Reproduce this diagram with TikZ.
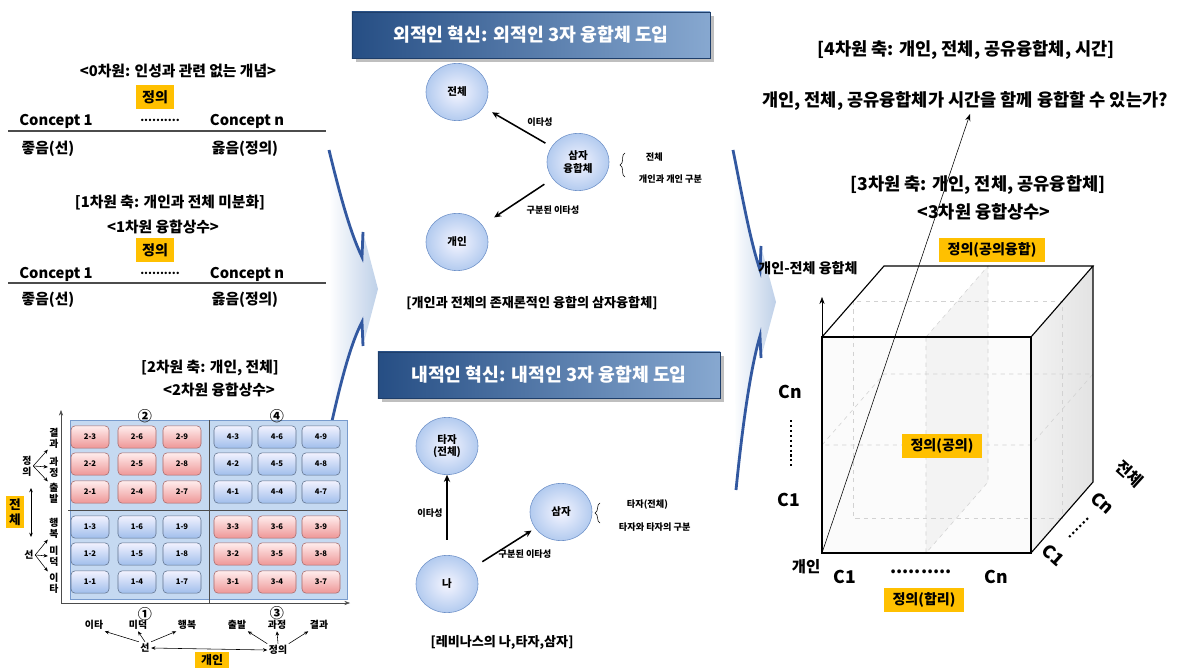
\documentclass[tikz,border=0pt]{standalone}
\usepackage{fontspec}
\setmainfont{Noto Sans CJK KR}
\usetikzlibrary{shapes, arrows.meta, positioning, calc, decorations.pathreplacing, shadows}

\definecolor{justyellow}{RGB}{255, 192, 0}
\definecolor{cellred}{RGB}{238, 150, 150}
\definecolor{cellblue}{RGB}{160, 190, 235}
\definecolor{panelblue}{RGB}{197, 217, 241}
\definecolor{paneledge}{RGB}{120, 155, 205}
\definecolor{bannerdark}{RGB}{38, 78, 132}
\definecolor{bannerlight}{RGB}{135, 168, 208}
\definecolor{chevblue}{RGB}{50, 88, 160}
\definecolor{chevfill}{RGB}{190, 208, 232}
\definecolor{bubbleedge}{RGB}{110, 145, 200}

\tikzset{
  ftitle/.style={font=\bfseries\fontsize{10.5}{12.5}\selectfont},
  fbig/.style={font=\bfseries\fontsize{12.5}{15}\selectfont},
  yellowbox/.style={fill=justyellow, inner xsep=4.5pt, inner ysep=3.5pt, font=\bfseries\fontsize{10}{12}\selectfont},
  gridcell/.style={draw, rounded corners=3pt, minimum width=0.95cm, minimum height=0.56cm, inner sep=0pt, font=\bfseries\fontsize{5.5}{6}\selectfont},
  redcell/.style={gridcell, draw=cellred!70!black, top color=red!7, bottom color=cellred},
  bluecell/.style={gridcell, draw=cellblue!60!black, top color=blue!5, bottom color=cellblue},
  bubble/.style={ellipse, draw=bubbleedge, inner color=blue!4, outer color=cellblue!80, minimum width=1.55cm, minimum height=1.43cm, inner sep=1pt, font=\bfseries\fontsize{7.5}{9}\selectfont, align=center},
  banner/.style={draw=bannerdark!80!black, left color=bannerdark, right color=bannerlight, drop shadow, text=white, font=\bfseries\fontsize{13}{15}\selectfont},
  smalltxt/.style={font=\bfseries\fontsize{6.5}{8}\selectfont},
  captxt/.style={font=\bfseries\fontsize{9.3}{11}\selectfont},
  vlab/.style={font=\bfseries\fontsize{7}{7.6}\selectfont, align=center, inner sep=1pt},
  dimlab/.style={font=\bfseries\fontsize{12.5}{14}\selectfont},
  hiddenline/.style={draw=gray!35, dashed, thin},
  smallarr/.style={-{Stealth[length=3pt, width=2.5pt]}, thin},
  midarr/.style={-{Stealth[length=5pt, width=4.5pt]}, line width=1.1pt},
}

\begin{document}
\begin{tikzpicture}[x=0.025cm, y=-0.025cm]
  \useasboundingbox (0,0) rectangle (1189,668);

  % big curved arrows
  \shade[left color=white, right color=chevfill] (329,150) .. controls (340,195) and (350,232) .. (362,257) -- (363,232) -- (378,289) -- (363,346) -- (362,322) .. controls (350,345) and (340,385) .. (330,430) -- cycle;
  \draw[chevblue, line width=2pt] (329,150) .. controls (340,195) and (350,232) .. (362,257) -- (363,232);
  \draw[chevblue, line width=2pt] (363,346) -- (362,322) .. controls (350,345) and (340,385) .. (330,430);
  \shade[left color=white, right color=chevfill] (733,150) .. controls (742,195) and (750,240) .. (760,270) -- (761,246) -- (776,302) -- (761,358) -- (760,336) .. controls (750,370) and (742,430) .. (736,490) -- cycle;
  \draw[chevblue, line width=2pt] (733,150) .. controls (742,195) and (750,240) .. (760,270) -- (761,246);
  \draw[chevblue, line width=2pt] (761,358) -- (760,336) .. controls (750,370) and (742,430) .. (736,490);

  % 0차원
  \node[ftitle] (zerotitle) at (178,71) {<0차원: 인성과 관련 없는 개념>};
  \node[yellowbox] (zerojust) at (155,97) {정의};
  \node[ftitle] (zeroc1) at (56,121) {Concept 1};
  \node[font=\bfseries\fontsize{8}{10}\selectfont] (zerodots) at (160,120) {..........};
  \node[ftitle] (zerocn) at (247,121) {Concept n};
  \draw[gray!60!black, line width=1pt] (8,131) -- (326,131);
  \node[ftitle] (zerogood) at (48,149) {좋음(선)};
  \node[ftitle] (zeroright) at (245,149) {옳음(정의)};

  % 1차원
  \node[ftitle] (onetitle) at (170,203) {[1차원 축: 개인과 전체 미분화]};
  \node[ftitle] (oneconst) at (163,227) {<1차원 융합상수>};
  \node[yellowbox] (onejust) at (155,250) {정의};
  \node[ftitle] (onec1) at (56,274) {Concept 1};
  \node[font=\bfseries\fontsize{8}{10}\selectfont] (onedots) at (160,273) {..........};
  \node[ftitle] (onecn) at (247,274) {Concept n};
  \draw[gray!60!black, line width=1pt] (8,283) -- (326,283);
  \node[ftitle] (onegood) at (48,300) {좋음(선)};
  \node[ftitle] (oneright) at (245,300) {옳음(정의)};

  % 2차원
  \node[ftitle] (twotitle) at (210,368) {[2차원 축: 개인, 전체]};
  \node[ftitle] (twoconst) at (219,390) {<2차원 융합상수>};

  \draw[draw=paneledge, fill=panelblue] (70,420) rectangle (347,599);
  \draw[gray!60!black] (68,510) -- (347,510);
  \draw[gray!60!black] (209,420) -- (209,603);
  \draw[-{Stealth[length=4pt]}, gray!60!black] (61,603) -- (61,410);
  \draw[-{Stealth[length=4pt]}, gray!60!black] (61,603) -- (350,603);
  \foreach \c/\x in {0/90, 1/137, 2/182} {
    \foreach \r/\y in {0/492, 1/464, 2/437} {
      \pgfmathtruncatemacro{\n}{3*\c+\r+1}
      \node[redcell] (two-\n) at (\x,\y) {2-\n};
      \node[bluecell] (one-\n) at (\x,\y+90) {1-\n};
    }
  }
  \foreach \c/\x in {0/233, 1/277, 2/321} {
    \foreach \r/\y in {0/492, 1/464, 2/437} {
      \pgfmathtruncatemacro{\n}{3*\c+\r+1}
      \node[bluecell] (four-\n) at (\x,\y) {4-\n};
      \node[redcell] (three-\n) at (\x,\y+90) {3-\n};
    }
  }
  \node[font=\bfseries\fontsize{10}{12}\selectfont] (numtwo) at (145,416) {②};
  \node[font=\bfseries\fontsize{10}{12}\selectfont] (numfour) at (277,416) {④};
  \node[font=\bfseries\fontsize{10}{12}\selectfont] (numone) at (145,614) {①};
  \node[font=\bfseries\fontsize{10}{12}\selectfont] (numthree) at (277,613) {③};

  % left axis labels
  \node[yellowbox, align=center, font=\bfseries\fontsize{9}{10.5}\selectfont, inner xsep=2pt, inner ysep=2pt] (lwhole) at (15,512) {전\\체};
  \coordinate (lupper) at (31,488);
  \coordinate (llower) at (31,537);
  \draw[{Stealth[length=3pt, width=2.5pt]}-{Stealth[length=3pt, width=2.5pt]}] (lupper) -- (llower);
  \node[vlab] (ljust) at (27,466) {정\\의};
  \node[vlab] (lres) at (54,438) {결\\과};
  \node[vlab] (lproc) at (54,467) {과\\정};
  \node[vlab] (lstart) at (54,493) {출\\발};
  \draw[smallarr] (ljust.east) -- (lres.south west);
  \draw[smallarr] (ljust.east) -- (lproc.west);
  \draw[smallarr] (ljust.east) -- (lstart.north west);
  \node[vlab] (lgood) at (29,555) {선};
  \node[vlab] (lhappy) at (54,528) {행\\복};
  \node[vlab] (lvirt) at (54,556) {미\\덕};
  \node[vlab] (lalt) at (54,583) {이\\타};
  \draw[smallarr] (lgood.east) -- (lhappy.south west);
  \draw[smallarr] (lgood.east) -- (lvirt.west);
  \draw[smallarr] (lgood.east) -- (lalt.north west);

  % bottom axis labels
  \node[vlab] (balt) at (94,625) {이타};
  \node[vlab] (bvirt) at (138,625) {미덕};
  \node[vlab] (bhappy) at (187,625) {행복};
  \node[vlab] (bgood) at (145,648) {선};
  \draw[smallarr] (bgood.north west) -- (balt.south east);
  \draw[smallarr] (bgood.north) -- (bvirt.south);
  \draw[smallarr] (bgood.north east) -- (bhappy.south west);
  \node[vlab] (bstart) at (237,625) {출발};
  \node[vlab] (bproc) at (277,625) {과정};
  \node[vlab] (bres) at (319,625) {결과};
  \node[vlab] (bjust) at (278,650) {정의};
  \draw[smallarr] (bjust.north west) -- (bstart.south east);
  \draw[smallarr] (bjust.north) -- (bproc.south);
  \draw[smallarr] (bjust.north east) -- (bres.south west);
  \draw[{Stealth[length=3pt, width=2.5pt]}-{Stealth[length=3pt, width=2.5pt]}] (bgood.east) -- (bjust.west);
  \node[yellowbox, font=\bfseries\fontsize{8.5}{10}\selectfont, inner ysep=2pt] (bindiv) at (212,660) {개인};

  % 외적인 혁신
  \node[banner, minimum width=8.95cm, minimum height=1.15cm] (outerbanner) at (531,35) {외적인 혁신: 외적인 3자 융합체 도입};
  \node[bubble] (owhole) at (457,92) {전체};
  \node[bubble] (otriad) at (578,162) {삼자\\융합체};
  \node[bubble] (oindiv) at (457,242) {개인};
  \draw[midarr, shorten >=7pt, shorten <=5pt] (otriad) -- (owhole);
  \node[smalltxt] (oalter) at (540,122) {이타성};
  \draw[midarr, shorten >=10pt, shorten <=7pt] (otriad) -- (oindiv);
  \node[smalltxt] (odist) at (553,210) {구분된 이타성};
  \coordinate (obracetop) at (625,153);
  \coordinate (obracebot) at (625,177);
  \draw[decorate, decoration={brace, amplitude=3.5pt}] (obracebot) -- (obracetop);
  \node[smalltxt, anchor=west] (owholetxt) at (641,157) {전체};
  \node[smalltxt, anchor=west] (odisttxt) at (634,179) {개인과 개인 구분};
  \node[captxt] (ocap) at (532,303) {[개인과 전체의 존재론적인 융합의 삼자융합체]};

  % 내적인 혁신
  \node[banner, minimum width=8.55cm, minimum height=1.15cm] (innerbanner) at (549,375) {내적인 혁신: 내적인 3자 융합체 도입};
  \node[bubble] (iother) at (447,446) {타자\\(전체)};
  \node[bubble] (iself) at (447,584) {나};
  \node[bubble] (itriad) at (561,512) {삼자};
  \draw[midarr, shorten <=11pt] (iself) -- (iother);
  \node[smalltxt] (ialter) at (430,513) {이타성};
  \draw[midarr, shorten <=8pt, shorten >=3pt] (iself) -- (itriad);
  \node[smalltxt] (idist) at (525,554) {구분된 이타성};
  \coordinate (ibracetop) at (600,503);
  \coordinate (ibracebot) at (600,523);
  \draw[decorate, decoration={brace, amplitude=3.5pt}] (ibracebot) -- (ibracetop);
  \node[smalltxt, anchor=west] (iothertxt) at (622,505) {타자(전체)};
  \node[smalltxt, anchor=west] (idisttxt) at (614,527) {타자와 타자의 구분};
  \node[captxt] (icap) at (502,642) {[레비나스의 나,타자,삼자]};

  % 3차원, 4차원
  \node[fbig] (fourtitle) at (966,50) {[4차원 축: 개인, 전체, 공유융합체, 시간]};
  \node[fbig] (question) at (965,101) {개인, 전체, 공유융합체가 시간을 함께 융합할 수 있는가?};
  \node[fbig] (threetitle) at (978,185) {[3차원 축: 개인, 전체, 공유융합체]};
  \node[fbig] (threeconst) at (984,212) {<3차원 융합상수>};

  % cube
  \coordinate (ftl) at (822,337);
  \coordinate (ftr) at (1031,337);
  \coordinate (fbr) at (1031,553);
  \coordinate (fbl) at (822,553);
  \coordinate (btl) at (884,266);
  \coordinate (btr) at (1093,266);
  \coordinate (bbr) at (1093,482);
  \shade[left color=gray!10, right color=gray!22] (ftr) -- (btr) -- (bbr) -- (fbr) -- cycle;
  \fill[gray!3] (ftl) rectangle (fbr);
  \fill[gray!12, fill opacity=0.7] (926,337) -- (988,266) -- (988,482) -- (926,553) -- cycle;
  \draw[hiddenline] (853,301) rectangle (1062,518);
  \draw[hiddenline] (926,337) -- (988,266) -- (988,482) -- (926,553) -- cycle;
  \draw[hiddenline] (822,445) -- (884,374) -- (1093,374) -- (1031,445) -- cycle;
  \draw[thick] (ftl) rectangle (fbr);
  \draw[thick] (ftl) -- (btl) -- (btr) -- (ftr);
  \draw[thick] (btr) -- (bbr) -- (fbr);
  \coordinate (vaxis) at (822,297);
  \draw[-{Stealth[length=5pt]}] (ftl) -- (vaxis);
  \node[font=\bfseries\fontsize{10}{12}\selectfont] (fusionlab) at (808,268) {개인-전체 융합체};
  \coordinate (timeend) at (970,114);
  \draw[-{Stealth[length=5pt]}] (fbl) -- (timeend);

  \node[yellowbox, inner xsep=6pt] (shared) at (992,250) {정의(공의융합)};
  \node[yellowbox, inner xsep=6pt] (fairness) at (942,446) {정의(공의)};
  \node[yellowbox, inner xsep=6pt] (rational) at (924,600) {정의(합리)};

  \node[dimlab] (ycn) at (790,392) {Cn};
  \coordinate (ydotstop) at (791,420);
  \coordinate (ydotsbot) at (791,468);
  \draw[dotted, line width=1.5pt] (ydotstop) -- (ydotsbot);
  \node[dimlab] (yc1) at (789,500) {C1};
  \node[font=\bfseries\fontsize{11}{13}\selectfont] (indivlab) at (806,567) {개인};
  \node[dimlab] (xc1) at (845,577) {C1};
  \node[dimlab] (xdots) at (921,572) {..........};
  \node[dimlab] (xcn) at (996,577) {Cn};
  \node[dimlab, rotate=-42, inner sep=0pt] (zc1) at (1053,555) {C1};
  \coordinate (zdotsa) at (1069,537);
  \coordinate (zdotsb) at (1088,518);
  \draw[dotted, line width=1.5pt] (zdotsa) -- (zdotsb);
  \node[dimlab, rotate=-42, inner sep=0pt] (zcn) at (1103,503) {Cn};
  \node[font=\bfseries\fontsize{11.5}{13}\selectfont, rotate=-42, inner sep=0pt] (zwhole) at (1130,474) {전체};
\end{tikzpicture}
\end{document}
